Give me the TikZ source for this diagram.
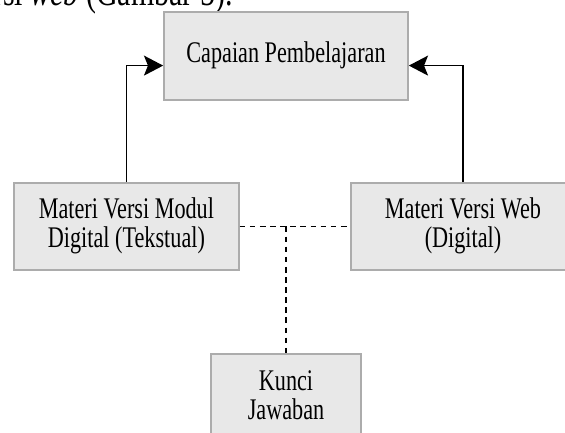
\documentclass[tikz,border=0pt]{standalone}
\usepackage{fontspec}
\setmainfont{Liberation Serif}
\usetikzlibrary{arrows.meta}

% text of the scan is taller than wide
\newcommand{\talltext}[1]{\scalebox{1}[1.35]{\begin{tabular}{@{}c@{}}#1\end{tabular}}}

\begin{document}
\begin{tikzpicture}[
    box/.style={draw=gray!65, line width=1.2pt, fill=gray!18, align=center, inner sep=0pt, font=\fontsize{15.8}{14.7}\selectfont},
    link/.style={line width=1pt, black},
    dashlink/.style={line width=1pt, black, dash pattern=on 4pt off 3.2pt}
]

    \useasboundingbox (0,0) rectangle (14.125,10.8);
    \clip (0,0) rectangle (14.125,10.8);

    %%% text line cut at the top
    \node (capline) [anchor=base east, inner sep=0pt, font=\fontsize{21.3}{25}\selectfont] at (5.825,10.65) {\scalebox{1}[1.35]{versi \textit{web} (Gambar 5).}};

    %%% boxes
    \node (capaian) [box, minimum width=6.1cm, minimum height=2.2cm] at (7.15,9.4) {\talltext{Capaian Pembelajaran}};
    \node (modul) [box, minimum width=5.625cm, minimum height=2.175cm] at (3.16,5.14) {\talltext{Materi Versi Modul\\Digital (Tekstual)}};
    \node (web) [box, minimum width=5.6cm, minimum height=2.175cm] at (11.575,5.14) {\talltext{Materi Versi Web\\(Digital)}};
    \node (kunci) [box, minimum width=3.75cm, minimum height=2.275cm] at (7.15,0.81) {\talltext{Kunci\\Jawaban}};

    %%% arrows
    \coordinate (inL) at ([yshift=-0.24cm]capaian.west);
    \coordinate (inR) at ([yshift=-0.24cm]capaian.east);

    \draw[link, -{Stealth[length=0.48cm, width=0.5cm, inset=0.1cm]}] (modul.north) |- (inL);
    \draw[link, -{Stealth[length=0.48cm, width=0.5cm, inset=0.1cm]}] (web.north) |- (inR);

    %%% dashed links
    \coordinate (J) at (kunci.north |- modul.east);
    \draw[dashlink] (modul.east) -- (web.west);
    \draw[dashlink] (J) -- (kunci.north);

\end{tikzpicture}
\end{document}
